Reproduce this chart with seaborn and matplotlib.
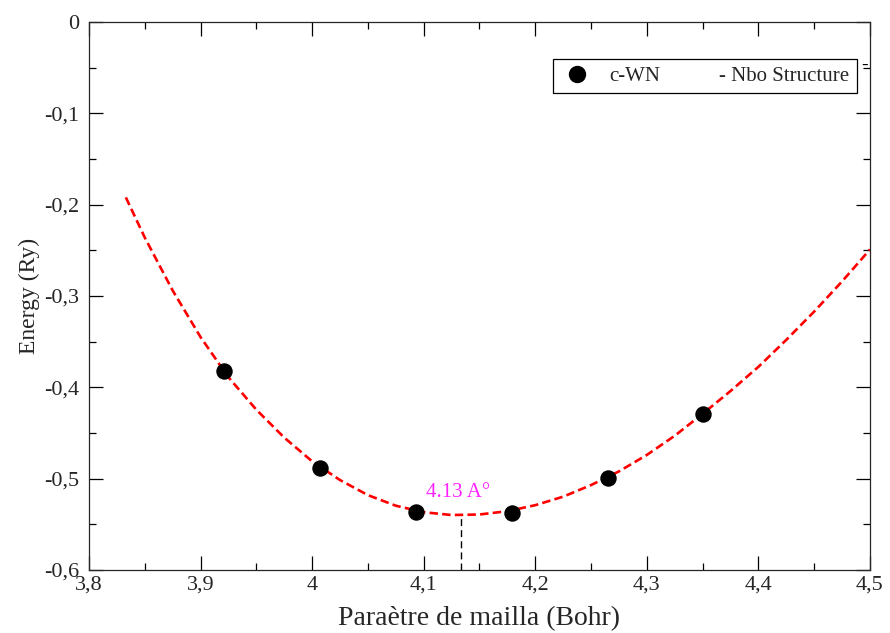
import matplotlib
matplotlib.use("Agg")
import matplotlib.pyplot as plt
import seaborn as sns
from matplotlib.ticker import MultipleLocator, FuncFormatter
from matplotlib.lines import Line2D

# ---- data ----
lattice = [3.921, 4.007, 4.093, 4.179, 4.265, 4.350]
energy = [-0.382, -0.488, -0.537, -0.538, -0.499, -0.429]

fit_lattice = [3.833, 3.85, 3.875, 3.9, 3.925, 3.95, 3.975, 4.0, 4.025, 4.05,
               4.075, 4.1, 4.125, 4.15, 4.175, 4.2, 4.225, 4.25, 4.275, 4.3,
               4.325, 4.35, 4.375, 4.4, 4.425, 4.45, 4.475, 4.5]
fit_energy = [-0.192, -0.236, -0.294, -0.345, -0.389, -0.4245, -0.455, -0.481,
              -0.5015, -0.518, -0.5296, -0.5367, -0.5398, -0.5392, -0.5356,
              -0.529, -0.5197, -0.507, -0.492, -0.474, -0.453, -0.429, -0.404,
              -0.3775, -0.348, -0.317, -0.284, -0.249]

min_lattice = 4.133
min_energy = -0.540
min_label = "4.13 A°"
series_label = "c-WN"
extra_label = "- Nbo Structure"
x_label = "Paraètre de mailla (Bohr)"
y_label = "Energy (Ry)"
x_range = (3.8, 4.5)
y_range = (-0.6, 0.0)

# ---- style ----
sns.set_theme(style="ticks")
plt.rcParams["font.family"] = ["Liberation Serif", "DejaVu Serif"]
plt.rcParams["axes.linewidth"] = 0.9

fig = plt.figure(figsize=(8.9, 6.33), dpi=100)
ax = fig.add_axes([0.100, 0.0995, 0.8775, 0.8657])

sns.lineplot(x=fit_lattice, y=fit_energy, color="red", linewidth=1.9,
             linestyle=(0, (3.2, 1.6)), sort=False, estimator=None, ax=ax,
             zorder=2)
sns.scatterplot(x=lattice, y=energy, color="black", s=140, linewidth=0,
                ax=ax, zorder=3, legend=False)

ax.set_xlim(*x_range)
ax.set_ylim(*y_range)
ax.vlines(min_lattice, y_range[0], min_energy, colors="black", linewidth=1.0,
          linestyles=(0, (5, 3)), zorder=1)
ax.text(4.131, -0.5153, min_label, color="#ff22ff", fontsize=15,
        ha="center", va="center")
ax.text(4.495, -0.047, "-", color="black", fontsize=14,
        ha="center", va="center")


def fmt(v, pos):
    s = f"{v:.2f}".rstrip("0").rstrip(".")
    if s == "-0":
        s = "0"
    return s.replace(".", ",")


ax.xaxis.set_major_locator(MultipleLocator(0.1))
ax.xaxis.set_minor_locator(MultipleLocator(0.05))
ax.yaxis.set_major_locator(MultipleLocator(0.1))
ax.yaxis.set_minor_locator(MultipleLocator(0.05))
ax.xaxis.set_major_formatter(FuncFormatter(fmt))
ax.yaxis.set_major_formatter(FuncFormatter(fmt))
ax.tick_params(which="both", direction="in", top=True, right=True,
               width=0.9, color="black")
ax.tick_params(which="major", length=10, labelsize=16)
ax.tick_params(axis="x", which="major", pad=4)
ax.tick_params(axis="y", which="major", pad=7)
ax.tick_params(which="minor", length=5)

ax.set_xlabel(x_label, fontsize=20, labelpad=8)
ax.set_ylabel(y_label, fontsize=17, labelpad=3)

handles = [Line2D([], [], marker="o", color="black", linestyle="none",
                  markersize=11.5),
           Line2D([], [], linestyle="none")]
leg = ax.legend(handles, [series_label, extra_label], ncol=2,
                loc="upper right", bbox_to_anchor=(0.983, 0.9325),
                fontsize=15, frameon=True, fancybox=False, framealpha=1,
                edgecolor="black", handlelength=1.6, handletextpad=0.74,
                columnspacing=0.5, borderpad=0.35, borderaxespad=0)
leg.get_frame().set_linewidth(0.9)

fig.savefig("out.png", dpi=100)
